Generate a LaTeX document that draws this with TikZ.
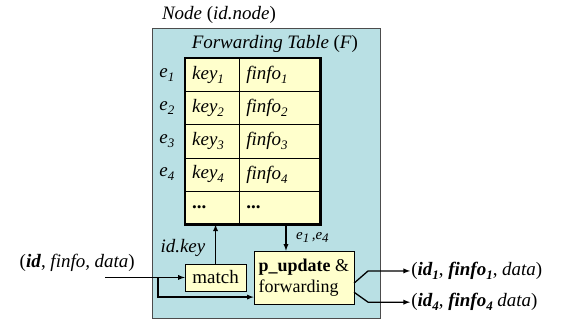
\documentclass[tikz,border=0pt]{standalone}
\usepackage{fontspec}
\setmainfont{Liberation Serif}
\usetikzlibrary{arrows, positioning, calc}
\definecolor{nodeblue}{RGB}{185,224,228}
\definecolor{cellyellow}{RGB}{255,255,204}
\newcommand{\subit}[1]{\raisebox{-0.45ex}{\fontsize{13}{14}\selectfont\itshape #1}}
\newcommand{\bigfont}{\fontsize{19}{22}\selectfont}

\begin{document}
\begin{tikzpicture}[font=\bigfont,
    cell/.style={draw, fill=cellyellow, minimum height=1.17cm, inner xsep=0.25cm,
        inner ysep=0pt, text width=#1, align=left, anchor=north west},
    box/.style={draw, fill=cellyellow},
    conn/.style={-latex, line width=1.3pt}]
        \useasboundingbox (0,0) rectangle (20,11.34);

        % Node
        \draw[fill=nodeblue, draw=black!70] (5.35,0.14) rectangle (13.38,10.35);
        \node[font=\bigfont\itshape] (nodelbl) at (7.71,10.81) {Node \textup{(}id.node\textup{)}};
        \node[font=\bigfont\itshape] (ftlbl) at (9.68,9.80) {Forwarding Table \textup{(}F\textup{)}};

        % Forwarding table
        \foreach \i in {1,...,4} {
            \node[cell=1.40cm, font=\bigfont\itshape] (k\i) at (6.51,{9.30-1.17*(\i-1)}) {key\subit{\i}};
            \node[cell=2.35cm, font=\bigfont\itshape] (f\i) at (8.42,{9.30-1.17*(\i-1)}) {finfo\subit{\i}};
            \node[left=0.25cm of k\i, font=\bigfont\itshape] (e\i) {e\subit{\i}};
        }
        \node[cell=1.40cm] (k5) at (6.51,4.62) {\textbf{...}};
        \node[cell=2.35cm] (f5) at (8.42,4.62) {\textbf{...}};
        \draw[line width=2.2pt] (k1.north west) rectangle (f5.south east);

        % Match and p_update
        \node[font=\bigfont\itshape] (idkey) at (6.44,2.61) {id.key};
        \node[box, minimum width=2.15cm, minimum height=0.95cm, inner xsep=2pt] (match) at (7.59,1.57) {match};
        \node[box, minimum width=3.52cm, minimum height=1.87cm, align=left, inner xsep=3pt,
            font=\fontsize{18}{21}\selectfont] (pu) at (10.70,1.57) {\textbf{p\_update} \&\\forwarding};

        \draw[conn] (match.north) -- (match.north |- k5.south);
        \coordinate (tdown) at (10.07,3.45);
        \draw[conn] (tdown) -- (tdown |- pu.north);
        \node[font=\fontsize{15}{17}\selectfont\itshape] (elbl) at (11.0,2.98) {e\subit{1}\,,e\subit{4}};

        % Input
        \coordinate (in) at (3.70,1.57);
        \coordinate (split) at (5.56,1.57);
        \node (inlbl) at (2.72,2.08) {(\textbf{\textit{id}}, \textit{finfo, data})};
        \draw[conn] (in) -- (match.west);
        \draw[conn] (split) |- ($(pu.west)+(0,-0.69)$);

        % Outputs
        \coordinate (o1) at (14.44,1.80);
        \coordinate (o2) at (14.44,0.70);
        \draw[conn] ($(pu.east)+(0,-0.2)$) -- ($(o1)+(-1.48,0)$) -- (o1);
        \draw[conn] ($(pu.east)+(0,-0.52)$) -- ($(o2)+(-1.48,0)$) -- (o2);
        \node[anchor=west, inner sep=1pt] (out1) at (o1) {(\textbf{\textit{id\subit{1}}}, \textbf{\textit{finfo\subit{1}}}, \textit{data})};
        \node[anchor=west, inner sep=1pt] (out2) at (o2) {(\textbf{\textit{id\subit{4}}}, \textbf{\textit{finfo\subit{4}}} \textit{data})};
    \end{tikzpicture}
\end{document}
